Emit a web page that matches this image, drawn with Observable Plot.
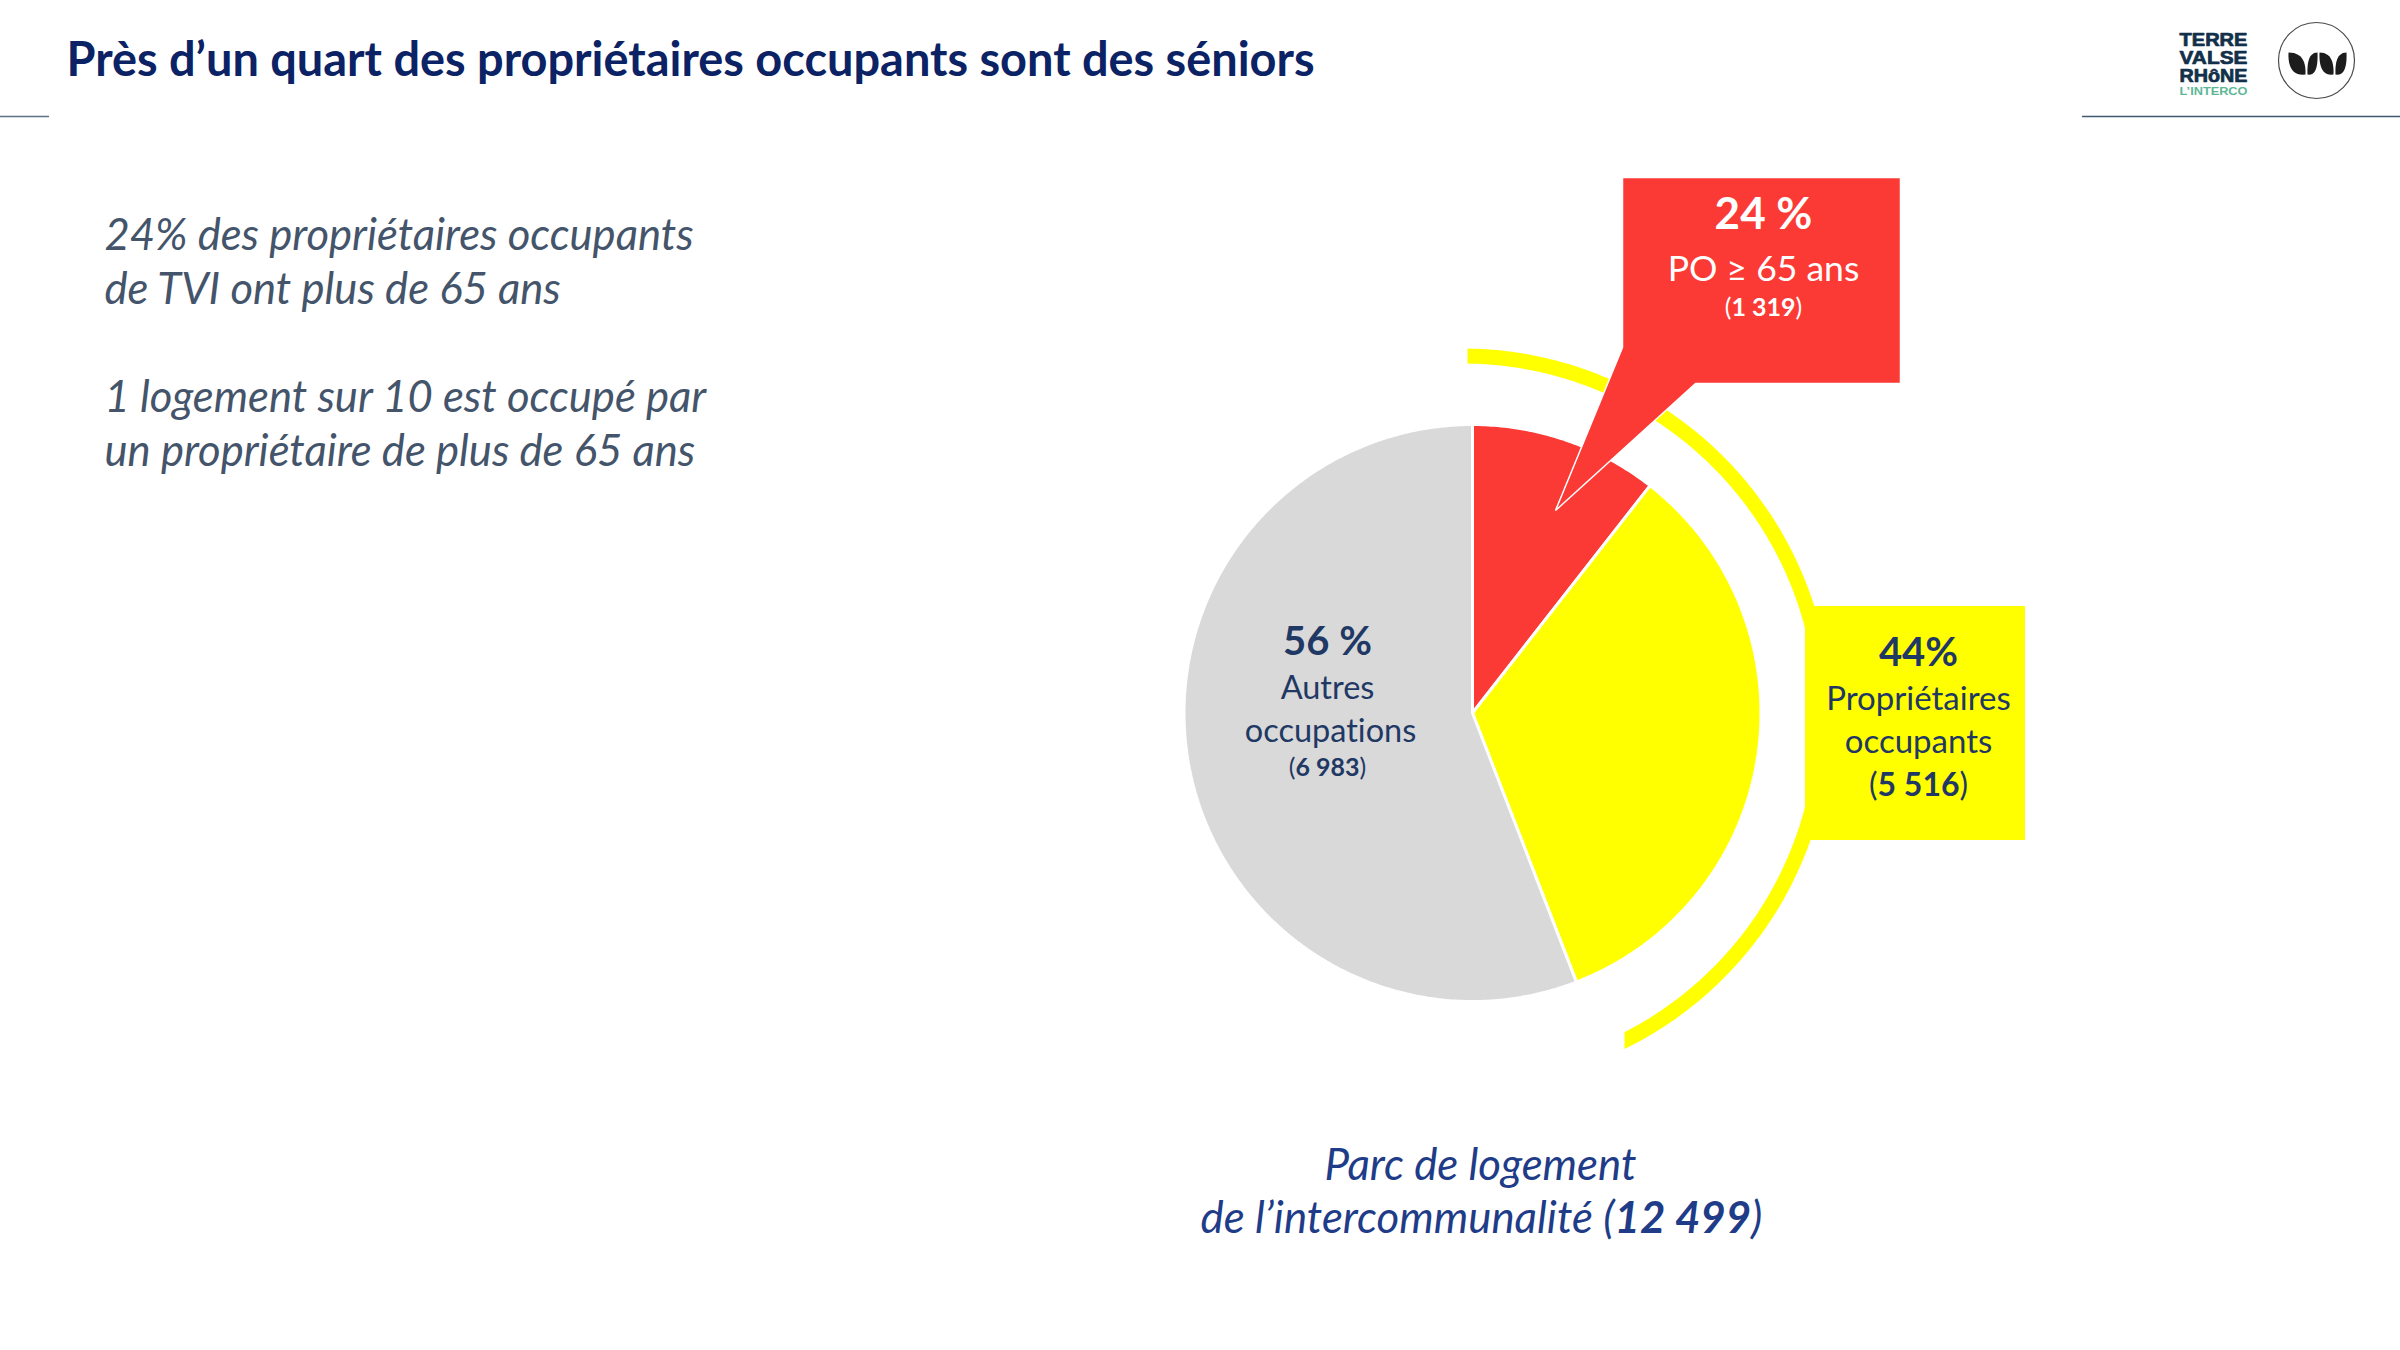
<!DOCTYPE html>
<html lang="fr">
<head>
<meta charset="utf-8">
<style>
html,body{margin:0;padding:0;background:#fff}
svg{display:block}
svg text{font-variant-ligatures:none}
</style>
<script src="https://cdn.jsdelivr.net/npm/d3@7"></script>
<script src="https://cdn.jsdelivr.net/npm/@observablehq/plot@0.6"></script>
</head>
<body>
<script>
// ---- Data
const categories = ["PO ≥ 65 ans", "Autres propriétaires occupants", "Autres occupations"];
const values = [1319, 4197, 6983];
const sliceColors = ["#fb3a35", "#ffff00", "#d9d9d9"];

const titleText = ["Près d’un quart des propriétaires occupants sont des séniors"];
const introLines = [
  "24% des propriétaires occupants",
  "de TVI ont plus de 65 ans",
  "1 logement sur 10 est occupé par",
  "un propriétaire de plus de 65 ans"
];
const seniorLabels = ["24 %", "PO ≥ 65 ans", "(**1 319**)"];
const ownerLabels = ["44%", "Propriétaires", "occupants", "(**5 516**)"];
const otherLabels = ["56 %", "Autres", "occupations", "(**6 983**)"];
const captionLines = ["Parc de logement", "de l’intercommunalité (**12 499**)"];
const logoLines = ["TERRE", "VALSE", "RHôNE", "L’INTERCO"];

// ---- Layout (page units)
const W = 2400, H = 1350;
const pie = {cx: 1472, cy: 712.5, r: 288.5};
const ring = {cx: 1462, cy: 717, outer: 369, inner: 354, startX: 1467, endX: 1624};
const FONT = "Lato";

const slices = d3.pie().sort(null)(values).flatMap((s, i) => {
  const n = Math.max(2, Math.ceil((s.endAngle - s.startAngle) * 90));
  const arc = d3.range(n + 1).map(k => {
    const a = s.startAngle + (s.endAngle - s.startAngle) * k / n;
    return {cat: categories[i], x: pie.cx + pie.r * Math.sin(a), y: pie.cy - pie.r * Math.cos(a)};
  });
  const c = {cat: categories[i], x: pie.cx, y: pie.cy};
  return [c, ...arc, c];
});

function ringArc(r) {
  const t0 = Math.asin((ring.startX - ring.cx) / r);
  const t1 = Math.PI - Math.asin((ring.endX - ring.cx) / r);
  return d3.range(201).map(k => {
    const t = t0 + (t1 - t0) * k / 200;
    return {x: ring.cx + r * Math.sin(t), y: ring.cy - r * Math.cos(t)};
  });
}
const ringPts = [...ringArc(ring.outer), ...ringArc(ring.inner).reverse()];
ringPts.push(ringPts[0]);

const seniorCallout = [[1622,177],[1900,177],[1900,383],[1695,383],[1555,510],[1622,347],[1622,177]].map(([x,y]) => ({x,y}));
const ownerBox = [{x1: 1805, x2: 2025, y1: 606, y2: 840}];

// logo leaves
const leafSpec = [[2288,52,2305,74],[2317,52,2307,74],[2319,52,2333,74],[2346,52,2335,74]];
const leaves = leafSpec.flatMap(([tx,ty,bx,by], i) => {
  const s = Math.sign(tx - bx);
  const side = (cx, cy) => d3.range(13).map(k => {
    const u = k / 12;
    return {leaf: i, x: (1-u)*(1-u)*tx + 2*u*(1-u)*cx + u*u*bx, y: (1-u)*(1-u)*ty + 2*u*(1-u)*cy + u*u*by};
  });
  return [...side(tx + s * 1, by + 2), ...side(bx - s * 1, ty)  .reverse()];
});

const at = (lines, xs, ys) => lines.map((text, i) => ({text, x: xs[i] ?? xs[0], y: ys[i]}));
const label = (rows, size, color, extra = {}) => Plot.text(rows, {
  x: "x", y: "y", text: "text", fontSize: size, fill: color, fontFamily: FONT,
  textAnchor: "middle", lineAnchor: "middle", ...extra
});

const NAVY = "#1f3864";
const plot = Plot.plot({
  width: W, height: H, margin: 0,
  x: {domain: [0, W], range: [0, W], axis: null},
  y: {domain: [0, H], range: [0, H], axis: null},
  style: {background: "#ffffff"},
  marks: [
    // header rules
    Plot.ruleY([116], {x1: 0, x2: 49, stroke: "#5b7286", strokeWidth: 1.5}),
    Plot.ruleY([116], {x1: 2082, x2: W, stroke: "#3f5a70", strokeWidth: 1.5}),
    // pie
    Plot.line(slices, {x: "x", y: "y", z: "cat", fill: d => sliceColors[categories.indexOf(d.cat)], stroke: "#ffffff", strokeWidth: 3, strokeLinejoin: "miter", curve: "linear"}),
    // owner box + ring
    Plot.rectY(ownerBox, {x1: "x1", x2: "x2", y1: "y1", y2: "y2", fill: "#ffff00"}),
    Plot.line(ringPts, {x: "x", y: "y", fill: "#ffff00", stroke: "none", curve: "linear"}),
    // senior callout
    Plot.line(seniorCallout, {x: "x", y: "y", fill: "#fb3a35", stroke: "#ffffff", strokeWidth: 1.5, strokeLinejoin: "miter", curve: "linear"}),
    // title
    label(at(titleText, [66], [60]), 46.9, "#0b2265", {textAnchor: "start", fontWeight: 700}),
    // intro text
    label(at(introLines, [104], [236, 290, 398, 452]), 43.6, "#44546a", {textAnchor: "start", fontStyle: "italic"}),
    // senior labels
    label(at(seniorLabels.slice(0,1), [1763], [214]), 44, "#ffffff", {fontWeight: 700}),
    label(at(seniorLabels.slice(1,2), [1763], [269]), 35.5, "#ffffff"),
    label(at(seniorLabels.slice(2), [1763], [307]), 25, "#ffffff", {className: "mixed"}),
    // owner labels
    label(at(ownerLabels.slice(0,1), [1918], [653]), 40, NAVY, {fontWeight: 700}),
    label(at(ownerLabels.slice(1,3), [1918], [699, 742]), 33, NAVY),
    label(at(ownerLabels.slice(3), [1918], [785]), 32, NAVY, {className: "mixed"}),
    // other labels
    label(at(otherLabels.slice(0,1), [1327], [642]), 40, NAVY, {fontWeight: 700}),
    label(at(otherLabels.slice(1,3), [1327, 1330], [688, 731]), 32.5, NAVY),
    label(at(otherLabels.slice(3), [1327], [767]), 25, NAVY, {className: "mixed"}),
    // caption
    label(at(captionLines, [1480, 1481], [1165, 1218]), 43.8, "#1f3c88", {fontStyle: "italic", className: "mixed"}),
    // logo
    label(at(logoLines.slice(0,3), [2213], [39.5, 57.5, 75.5]), 18, "#12304a", {fontFamily: "Liberation Sans", fontWeight: 700, stroke: "#12304a", strokeWidth: 0.7, className: "logo"}),
    label(at(logoLines.slice(3), [2213], [90.5]), 11, "#5db795", {fontFamily: "Liberation Sans", fontWeight: 700, className: "logo"}),
    Plot.dot([{x: 2316, y: 60}], {x: "x", y: "y", r: 38, stroke: "#4a4a4a", strokeWidth: 1.2, fill: "none"}),
    Plot.line(leaves, {x: "x", y: "y", z: "leaf", fill: "#1c1c1c", stroke: "none", curve: "linear"})
  ]
});

// bold fragments inside a line (marked **…**) become tspans
plot.querySelectorAll("g.mixed text").forEach(t => {
  const parts = t.textContent.split("**");
  if (parts.length < 2) return;
  t.textContent = "";
  parts.forEach((p, i) => {
    const s = document.createElementNS("http://www.w3.org/2000/svg", "tspan");
    s.textContent = p;
    if (i % 2) s.setAttribute("font-weight", "700");
    t.appendChild(s);
  });
});
plot.querySelectorAll("g.logo text").forEach(t => {
  t.setAttribute("textLength", 68);
  t.setAttribute("lengthAdjust", "spacingAndGlyphs");
});
document.body.appendChild(plot);
</script>
</body>
</html>
